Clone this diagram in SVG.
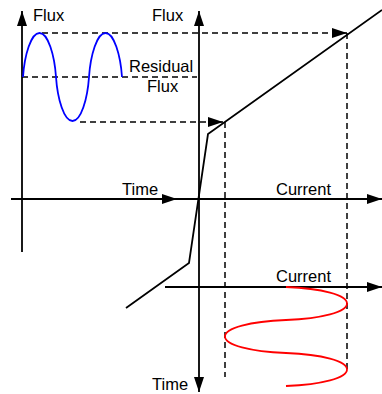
<svg xmlns="http://www.w3.org/2000/svg" width="382" height="394" viewBox="0 0 382 394">
<style>
.ax{stroke:#000;stroke-width:1.8;fill:none}
.ds{stroke:#000;stroke-width:1.5;fill:none;stroke-dasharray:6,4}
.cv{stroke:#000;stroke-width:1.8;fill:none;stroke-linejoin:miter}
.bl{stroke:#0000ff;stroke-width:1.8;fill:none}
.rd{stroke:#ff0000;stroke-width:1.8;fill:none}
text{font-family:"Liberation Sans",Arial,sans-serif;font-size:16.5px;fill:#000}
</style>
<defs>
<marker id="ah" markerUnits="userSpaceOnUse" markerWidth="15" markerHeight="10" refX="15" refY="5" orient="auto">
<path d="M0,0 L15,5 L0,10 z" fill="#000"/>
</marker>
</defs>
<g id="connectors">
<line class="ax" x1="22" y1="252" x2="22" y2="11" marker-end="url(#ah)"/>
<line class="ax" x1="11" y1="199" x2="177" y2="199" marker-end="url(#ah)"/>
<line class="ax" x1="177" y1="199" x2="382" y2="199" marker-end="url(#ah)"/>
<line class="ax" x1="199" y1="199" x2="199" y2="11" marker-end="url(#ah)"/>
<line class="ax" x1="199" y1="199" x2="199" y2="392" marker-end="url(#ah)"/>
<line class="ax" x1="165" y1="287" x2="382" y2="287" marker-end="url(#ah)"/>
<line class="ds" x1="42" y1="33" x2="347" y2="33" marker-end="url(#ah)"/>
<line class="ds" x1="22" y1="77" x2="197" y2="77"/>
<line class="ds" x1="80" y1="122" x2="223" y2="122" marker-end="url(#ah)"/>
<line class="ds" x1="225" y1="122" x2="225" y2="377"/>
<line class="ds" x1="347" y1="33" x2="347" y2="373"/>
</g>
<g id="magnetization-curve">
<polyline class="cv" points="126,308 189,263 208,134 382,10"/>
</g>
<g id="flux-wave">
<path class="bl" d="M23,77 C24.5,55 31,33 39.5,33 C48,33 54.5,55 56,77 C57.5,99 64,121 72.5,121 C81,121 87.5,99 89,77 C90.5,55 97,33 105.5,33 C114,33 120.5,55 122,77"/>
</g>
<g id="current-wave">
<path class="rd" d="M286,287 C322,288.5 347,295 347,303.5 C347,312 322,318.5 286,320 C250,321.5 225,328 225,336.5 C225,345 250,351.5 286,353 C322,354.5 347,361 347,369.5 C347,378 322,384.5 286,386"/>
</g>
<g id="labels">
<text x="33" y="21">Flux</text>
<text x="152" y="21">Flux</text>
<text x="129" y="72">Residual</text>
<text x="147" y="92">Flux</text>
<text x="122" y="195">Time</text>
<text x="276" y="195">Current</text>
<text x="276" y="282">Current</text>
<text x="152" y="390">Time</text>
</g>
</svg>
